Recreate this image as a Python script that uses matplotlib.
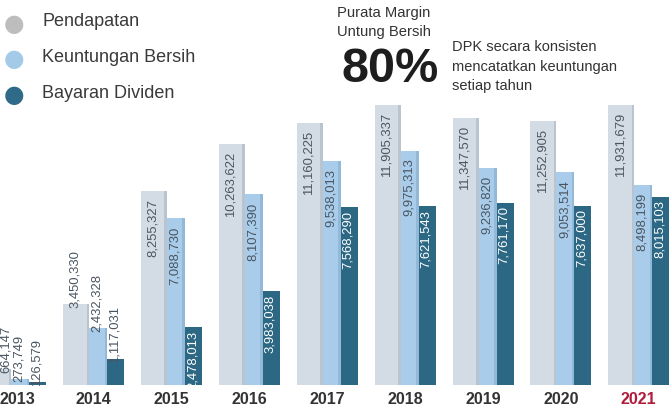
import numpy as np
import matplotlib
matplotlib.use('Agg')
import matplotlib.pyplot as plt

plt.rcParams['font.family'] = ['Liberation Sans', 'DejaVu Sans']

YEARS = ['2013', '2014', '2015', '2016', '2017', '2018', '2019', '2020', '2021']
PENDAPATAN = [664147, 3450330, 8255327, 10263622, 11160225, 11905337, 11347570, 11252905, 11931679]
KEUNTUNGAN = [273749, 2432328, 7088730, 8107390, 9538013, 9975313, 9236820, 9053514, 8498199]
DIVIDEN = [126579, 1117031, 2478013, 3983038, 7568290, 7621543, 7761170, 7637000, 8015103]
SERIES = ['Pendapatan', 'Keuntungan Bersih', 'Bayaran Dividen']

COL_BAR = ['#d3dce5', '#a8cce9', '#2c6784']
COL_EDGE = ['#b9c4ce', '#93b9d8']
COL_DOT = ['#bdbdbd', '#a3cbe8', '#2f6b88']
TXT = '#3a3a3a'
LBL = '#4a5560'

W, H = 672, 410
PX_GROUP = 77.9           # pixels between groups
PX_LEFT = 14.9            # first group starts this far left of the picture
PX_M = 23.5               # pixels per million
BASE = 386                # baseline pixel row
widths = [26 / PX_GROUP, 18 / PX_GROUP, 17 / PX_GROUP]

fig = plt.figure(figsize=(W / 100, H / 100), dpi=100)
ax = fig.add_axes([0, 0, 1, 1])
ax.set_axis_off()
x0 = PX_LEFT / PX_GROUP
ax.set_xlim(x0, x0 + W / PX_GROUP)
ax.set_ylim(-(H - BASE) / PX_M * 1e6, BASE / PX_M * 1e6)

x = np.arange(len(YEARS))
offsets = np.cumsum([0] + widths[:-1])
for k, vals in enumerate([PENDAPATAN, KEUNTUNGAN, DIVIDEN]):
    left = x + offsets[k]
    ax.bar(left, vals, widths[k], align='edge', color=COL_BAR[k], zorder=2)
    # darker strip on right edge of the lighter bars
    if k < 2:
        ax.bar(left + widths[k] - 2.5 / PX_GROUP, vals, 2.5 / PX_GROUP, align='edge',
               color=COL_EDGE[k], zorder=2)
    for i, v in enumerate(vals):
        cx = max(left[i] + widths[k] / 2 - 1 / PX_GROUP, x0 + 6 / PX_GROUP)
        if int(YEARS[i]) >= 2015:
            c = 'white' if k == 2 else LBL
            ax.annotate(f'{v:,}', (cx, v), xytext=(0, -2 if k == 2 else -5),
                        textcoords='offset points', rotation=90, ha='center',
                        va='top', fontsize=9.4, color=c, zorder=3)
        else:
            ax.annotate(f'{v:,}', (cx, v), xytext=(0, -2), textcoords='offset points',
                        rotation=90, ha='center', va='bottom', fontsize=9.4,
                        color=LBL, zorder=3)

centers = x + sum(widths) / 2
for i, yr in enumerate(YEARS):
    ax.text(max(centers[i], x0 + 17 / PX_GROUP), 1 - 400 / H, yr,
            transform=ax.get_xaxis_transform(),
            ha='center', va='center', fontsize=11.5, fontweight='bold',
            family=['Liberation Sans Narrow', 'Liberation Sans'],
            color='#b01c3c' if yr == '2021' else '#333333')

# legend
for k, (name, ty) in enumerate(zip(SERIES, [22, 58, 93])):
    fig.text(14 / W, 1 - [24, 59, 95][k] / H, '\u25cf', color=COL_DOT[k],
             fontsize=17, ha='center', va='center', family='DejaVu Sans')
    fig.text(42 / W, 1 - ty / H, name, color=TXT, fontsize=13, ha='left', va='center')

# annotations
fig.text(384 / W, 1 - 13 / H, 'Purata Margin', ha='center', va='center',
         fontsize=10.6, color='#333333')
fig.text(384 / W, 1 - 32 / H, 'Untung Bersih', ha='center', va='center',
         fontsize=10.6, color='#333333')
fig.text(390 / W, 1 - 70 / H, '80%', ha='center', va='center', fontsize=35,
         fontweight='bold', color='#1e1e1e')
for line, ty in zip(['DPK secara konsisten', 'mencatatkan keuntungan', 'setiap tahun'],
                    [47, 67, 86]):
    fig.text(452 / W, 1 - ty / H, line, ha='left', va='center', fontsize=10.5,
             color='#333333')

fig.savefig('out.png', dpi=100)
